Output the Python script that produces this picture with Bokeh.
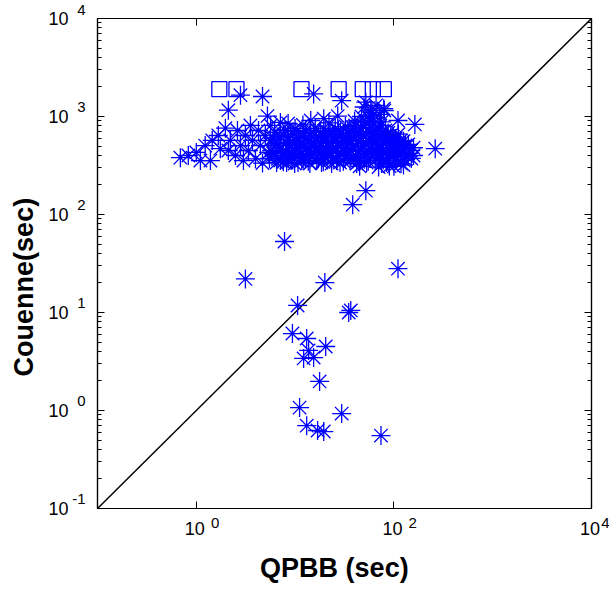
import math
from bokeh.plotting import figure
from bokeh.models import LogAxis, FixedTicker, CustomJSTickFormatter, Range1d
from bokeh.embed import file_html
from bokeh.resources import INLINE

# ---- data (seconds) ----
qpbb_star = [
    # left tail of the upper cluster
    0.69, 0.83, 1.0, 1.1, 1.23, 1.39, 1.45, 1.67, 1.75, 1.97, 2.11, 2.21, 2.49, 2.61,
    2.8, 3.0, 3.14, 3.37, 3.53, 3.7, 3.97, 4.26, 4.46, 4.68, 5.0, 5.4, 5.65,
    # dense part of the upper cluster
    5.6, 5.8, 5.5,
    6.2, 6.4, 6.3, 6.5,
    7.0, 7.2, 7.1,
    7.9, 8.1, 8.0, 8.2,
    9.0, 8.8, 9.2, 9.1,
    10.0, 10.3, 10.1, 9.9,
    11.2, 11.5, 11.4, 11.7,
    12.8, 12.5, 13.0, 12.7,
    14.2, 14.6, 14.4, 14.1,
    16.0, 16.4, 16.2, 16.6,
    18.0, 18.4, 18.1, 18.5,
    20.2, 20.6, 20.4, 20.0,
    22.6, 23.2, 22.9, 23.4,
    25.5, 26.0, 25.8, 26.3,
    28.7, 29.3, 29.0, 28.5,
    32.3, 33.0, 32.6, 32.0,
    36.2, 37.0, 36.6, 36.0,
    40.5, 41.5, 41.1, 40.8, 42.0,
    45.8, 46.6, 46.2, 45.5,
    51.5, 52.4, 52.0, 51.0, 53.0,
    58.0, 58.8, 58.4, 57.5,
    65.0, 66.2, 65.6, 64.8,
    73.0, 74.5, 73.8, 72.5, 75.0,
    82.0, 83.5, 82.9, 84.0,
    93.0, 94.0, 92.0,
    104.0, 106.0, 105.0,
    117.0, 119.0, 118.0,
    131.0, 133.0,
    148.0, 150.0,
    45.0, 70.0, 90.0, 100.0, 125.0,
    # second, interleaved layer of the dense part
    6.0, 6.0,
    6.7, 6.7,
    7.6, 7.6, 7.6,
    8.5, 8.5, 8.5,
    9.5, 9.5, 9.5,
    10.7, 10.7, 10.7,
    12.1, 12.1, 12.1,
    13.6, 13.6, 13.6,
    15.3, 15.3, 15.3,
    17.2, 17.2, 17.2,
    19.3, 19.3, 19.3, 19.3,
    21.6, 21.6, 21.6,
    24.3, 24.3, 24.3,
    27.4, 27.4, 27.4, 27.4,
    30.8, 30.8, 30.8, 30.8,
    34.6, 34.6, 34.6,
    38.8, 38.8, 38.8, 38.8,
    43.6, 43.6, 43.6, 43.6,
    49.0, 49.0, 49.0, 49.0,
    55.0, 55.0, 55.0, 55.0,
    61.8, 61.8, 61.8, 61.8,
    69.4, 69.4, 69.4, 69.4,
    78.0, 78.0, 78.0, 78.0,
    87.5, 87.5, 87.5, 87.5,
    98.0, 98.0, 98.0,
    111.0, 111.0, 111.0,
    125.0, 125.0, 125.0,
    140.0, 140.0,
    158.0, 158.0,
    # upper outliers
    2.11, 2.8, 4.68, 15.4, 29.6, 52.0, 58.4, 79.0, 110.0, 163.0, 262.0,
    5.25, 7.1, 14.4, 19.5, 27.0, 8.5, 12.0, 22.0, 40.0, 47.0, 55.0, 62.0, 75.0,
    50.0, 60.0, 66.0, 72.0, 80.0, 57.0,
    # below the upper cluster
    52.0, 38.3,
    # lower group
    7.82, 110.0, 3.14, 20.0, 10.6, 36.6, 34.9, 9.4, 13.1, 20.4, 13.7, 12.2,
    15.4, 17.7, 11.1, 29.6, 13.1, 16.9, 19.5, 74.0,
]
couenne_star = [
    380, 400, 430, 355, 505, 355, 570, 640, 470, 760, 450, 570, 400, 720,
    505, 355, 640, 450, 810, 570, 370, 720, 505, 335, 640, 430, 810,
    569, 450, 373,
    690, 506, 400, 339,
    625, 471, 356,
    720, 545, 429, 339,
    640, 506, 400, 356,
    755, 569, 450, 331,
    671, 530, 420, 356,
    720, 597, 471, 373,
    640, 506, 400, 331,
    755, 569, 450, 356,
    690, 530, 429, 339,
    720, 597, 471, 383,
    640, 506, 400, 331,
    755, 569, 450, 356,
    671, 530, 420, 339,
    790, 597, 471, 373,
    720, 569, 450, 356,
    809, 640, 506, 400, 331,
    755, 569, 450, 356,
    880, 671, 530, 420, 339,
    775, 597, 471, 373,
    720, 569, 450, 356,
    809, 640, 506, 400, 331,
    720, 545, 429, 339,
    640, 506, 400,
    597, 450, 356,
    569, 429, 331,
    506, 400,
    450, 373,
    310, 305, 312, 310, 320,
    600, 420,
    530, 370,
    660, 440, 345,
    580, 470, 370,
    700, 520, 380,
    610, 480, 340,
    640, 500, 390,
    560, 440, 350,
    690, 530, 420,
    620, 490, 370,
    650, 560, 400, 345,
    700, 540, 430,
    600, 480, 370,
    720, 640, 500, 395,
    620, 560, 440, 350,
    680, 530, 410,
    760, 610, 480, 370,
    700, 560, 440, 345,
    810, 630, 500, 390,
    700, 560, 440, 350,
    840, 660, 520, 410,
    760, 620, 480, 380,
    700, 580, 460, 360,
    680, 560, 440, 350,
    620, 530, 420,
    660, 500, 390,
    560, 470, 360,
    520, 420,
    480, 400,
    1160, 1650, 1600, 1700, 1450, 1400, 1160, 1200, 910, 830, 470,
    1010, 870, 910, 950, 1010, 850, 820, 860, 900, 1000, 1000, 950, 880,
    1250, 1100, 1300, 1050, 1150, 950,
    175, 126,
    53, 28, 22, 20.2, 11.8, 10.5, 10.0, 6.1, 5.43, 4.5, 4.1, 3.4,
    3.47, 1.98, 1.07, 0.93, 0.70, 0.625, 0.61, 0.555,
]
qpbb_square = [1.71, 2.55, 11.6, 27.6, 48.4, 61.2, 79.1]
couenne_square = [1900, 1900, 1900, 1900, 1900, 1900, 1900]
diag = [0.1, 10000]

x_major = [1, 100, 10000]
y_major = [0.1, 1, 10, 100, 1000, 10000]
y_minor = [m * 10.0 ** e for e in range(-1, 4) for m in range(2, 10)]
# titles (trailing wide spaces nudge the centred titles as in the reference)
x_label_text = "QPBB (sec)\u2002\u2005"
y_label_text = "Couenne(sec)\u2003\u2002\u2005"

FONT = "Liberation Sans"
BLUE = "#0000ff"

p = figure(width=609, height=588, x_axis_type="log", y_axis_type="log",
           x_range=Range1d(0.1, 10000), y_range=Range1d(0.1, 10000),
           output_backend="svg", toolbar_location=None,
           min_border_left=97, min_border_right=18, min_border_top=18,
           min_border_bottom=80)
p.grid.visible = False
p.outline_line_color = "black"
p.outline_line_width = 1.2
p.background_fill_color = "white"
p.border_fill_color = "white"

blank = CustomJSTickFormatter(code="return '';")
# exponents: raised on the y axis by an empty second line
exp_y = CustomJSTickFormatter(code="return String(Math.round(Math.log10(tick))) + '\\n';")
# exponents on the x axis: leading wide spaces push the digit right of the tick
exp_x = CustomJSTickFormatter(
    code="return '\\u2003\\u2003\\u2005\\u2005' + String(Math.round(Math.log10(tick)));")
ten_y = CustomJSTickFormatter(code="return '10';")
ten_x = CustomJSTickFormatter(code="return '10\\u2006';")

xt = FixedTicker(ticks=x_major, minor_ticks=[])
yt = FixedTicker(ticks=y_major, minor_ticks=y_minor)

def ticks_style(ax):
    ax.axis_line_color = "black"
    ax.axis_line_width = 1.2
    ax.major_tick_in = 7
    ax.major_tick_out = 0
    ax.minor_tick_in = 4
    ax.minor_tick_out = 0
    ax.major_tick_line_color = "black"
    ax.minor_tick_line_color = "black"

def label_style(ax, size):
    ax.major_label_text_font = FONT
    ax.major_label_text_font_size = size
    ax.major_label_text_color = "black"

def bare(ax):
    ax.axis_line_color = None
    ax.major_tick_line_color = None
    ax.minor_tick_line_color = None
    ax.major_tick_in = 0
    ax.major_tick_out = 0
    ax.minor_tick_in = 0
    ax.minor_tick_out = 0

def title_style(ax):
    ax.axis_label_text_font = FONT
    ax.axis_label_text_font_style = "bold"
    ax.axis_label_text_font_size = "27px"
    ax.axis_label_text_color = "black"

# inner bottom axis: ticks + exponents
xa = p.xaxis[0]
xa.ticker = xt
xa.formatter = exp_x
ticks_style(xa)
label_style(xa, "15px")
xa.major_label_standoff = 5

# outer bottom axis: the "10" mantissas + title
xb = LogAxis(ticker=xt, formatter=ten_x)
bare(xb)
label_style(xb, "18px")
xb.major_label_standoff = -15
xb.axis_label = x_label_text
title_style(xb)
xb.axis_label_standoff = 11
p.add_layout(xb, "below")

# inner left axis: ticks + exponents
ya = p.yaxis[0]
ya.ticker = yt
ya.formatter = exp_y
ticks_style(ya)
label_style(ya, "15px")
ya.major_label_standoff = 12

# outer left axis: "10" mantissas + title
yb = LogAxis(ticker=yt, formatter=ten_y)
bare(yb)
label_style(yb, "18px")
yb.major_label_standoff = 1
yb.axis_label = y_label_text
title_style(yb)
yb.axis_label_standoff = 6
p.add_layout(yb, "left")

# mirrored ticks on top and right
top = LogAxis(ticker=xt, formatter=blank)
ticks_style(top)
top.major_label_text_font_size = "0px"
top.major_label_standoff = 0
p.add_layout(top, "above")
right = LogAxis(ticker=yt, formatter=blank)
ticks_style(right)
right.major_label_text_font_size = "0px"
right.major_label_standoff = 0
p.add_layout(right, "right")

p.line(diag, diag, line_color="black", line_width=1.5)
p.scatter(qpbb_star, couenne_star, marker="asterisk", size=19,
          line_color=BLUE, line_width=1.3)
p.scatter(qpbb_square, couenne_square, marker="square", size=15,
          line_color=BLUE, fill_color=None, line_width=1.3)

with open("out.html", "w", encoding="utf-8") as f:
    f.write(file_html(p, INLINE))
